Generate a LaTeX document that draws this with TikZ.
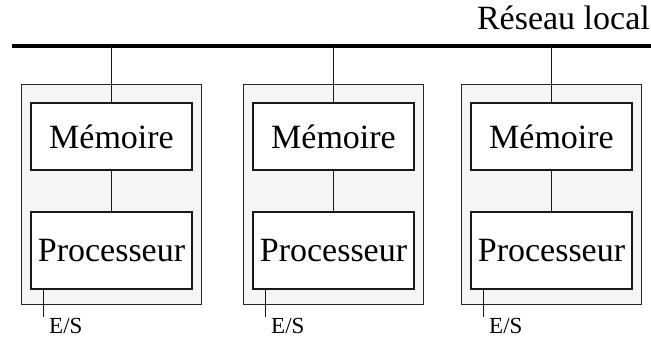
\documentclass[tikz,border=0pt]{standalone}
\usepackage{fontspec}
\setmainfont{Liberation Serif}
\begin{document}
\begin{tikzpicture}[x=1pt,y=-1pt,
  node box/.style={draw=black!90,line width=1.1pt,fill=white,minimum width=161pt,inner sep=0pt,font=\fontsize{34}{36}\selectfont},
  site/.style={draw=black!85,line width=1pt,fill=black!4},
  wire/.style={draw=black!90,line width=1pt},
  bus/.style={draw=black,line width=3.3pt},
  iolabel/.style={font=\fontsize{23}{24}\selectfont,inner sep=0pt,anchor=base west}]
\useasboundingbox (0,0) rectangle (651,338);
% local network bus
\coordinate (busL) at (12,46);
\coordinate (busR) at (651,46);
\draw[bus] (busL) -- (busR);
\node[anchor=base east,inner sep=0pt,font=\fontsize{34}{36}\selectfont] (net) at (650,29) {Réseau local};
% three sites, each with a memory and a processor
\foreach \i/\x in {1/21,2/243,3/461}{
  \draw[site] (\x,84) rectangle ++(180,220);
  \node[node box,minimum height=67pt] (m\i) at (\x+90.5,136.5) {Mémoire};
  \node[node box,minimum height=77pt] (p\i) at (\x+90.5,250.5) {Processeur};
  \coordinate (tap\i) at (\x+90.5,46);
  \draw[wire] (tap\i) -- (m\i.north);
  \draw[wire] (m\i.south) -- (p\i.north);
  \coordinate (io\i) at (\x+22,317);
  \draw[wire] (p\i.south west -| io\i) -- (io\i);
  \node[iolabel] (es\i) at (\x+28,333) {E/S};
}
\end{tikzpicture}
\end{document}
